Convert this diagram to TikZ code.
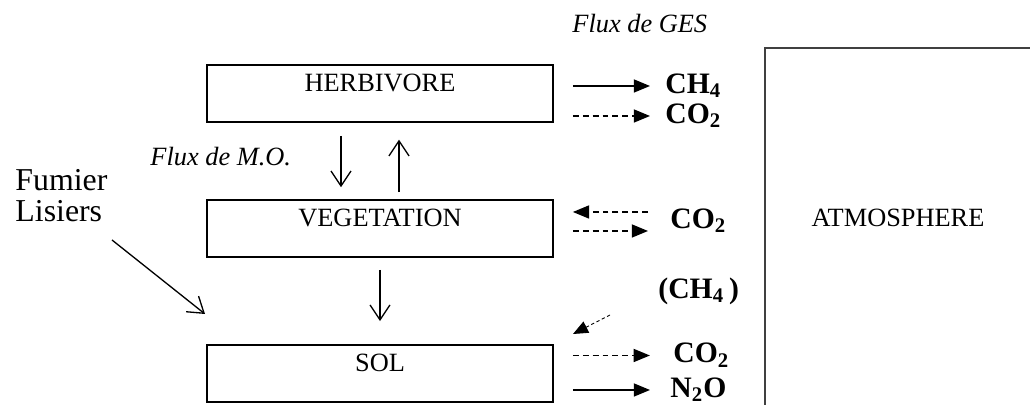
\documentclass[tikz,border=0pt]{standalone}
\usepackage{fontspec}
\setmainfont{Liberation Serif}
\usepackage{tikz}
\usetikzlibrary{
    arrows.meta,
    positioning,
    calc
}

\begin{document}
\begin{tikzpicture}[
    box/.style={draw, line width=0.8pt, minimum width=5.536cm, minimum height=0.912cm, inner ysep=0pt, text height=0.43cm, text depth=0.482cm, font=\fontsize{12}{14}\selectfont},
    gaz/.style={inner sep=0pt, anchor=west, text height=0.66em, text depth=0pt, font=\fontsize{13.5}{15}\selectfont\bfseries},
    note/.style={inner sep=0pt, anchor=base west, font=\fontsize{12}{14}\selectfont\itshape},
    flow/.style={-{Straight Barb[length=0.24cm, width=0.32cm]}, line width=0.6pt},
    flux/.style={-{Triangle[length=0.26cm, width=0.21cm]}, line width=0.6pt, shorten <=0.304cm},
    fluxd/.style={flux, dash pattern=on 2.7pt off 1.8pt},
]
    \useasboundingbox (0,0) rectangle (16.48,6.48);

    % Compartiments
    \node[box] (herb) at (6.08, 4.984) {HERBIVORE};
    \node[box] (veg) at (6.08, 2.824) {VEGETATION};
    \node[box] (sol) at (6.08, 0.504) {SOL};

    % Atmosphere
    \draw[line width=0.5pt, black!75] (12.24,0) |- (16.48,5.712);
    \node[font=\fontsize{12}{14}\selectfont] (atm) at (14.368, 2.99) {ATMOSPHERE};

    % Legendes
    \node[note] (fges) at (9.152, 5.952) {Flux de GES};
    \node[note] (fmo) at (2.4, 3.824) {Flux de M.O.};
    \node[inner sep=0pt, anchor=base west, align=left, font=\fontsize{14.5}{14.5}\selectfont] (fumier) at (0.24, 2.93) {Fumier\\Lisiers};

    % Flux de matiere organique
    \draw[flow, shorten <=0.208cm, shorten >=0.19cm] ([xshift=-0.624cm]herb.south) -- ([xshift=-0.624cm]veg.north);
    \draw[flow, shorten <=0.11cm, shorten >=0.27cm] ([xshift=0.304cm]veg.north) -- ([xshift=0.304cm]herb.south);
    \draw[flow, shorten <=0.192cm, shorten >=0.368cm] (veg.south) -- (sol.north);
    \coordinate (depart) at (1.792, 2.64);
    \coordinate (arrivee) at (3.28, 1.456);
    \draw[flow] (depart) -- (arrivee);

    % Gaz a effet de serre
    \node[gaz] (ch4h) at (10.64, 5.104) {CH\textsubscript{4}};
    \node[gaz] (co2h) at (10.64, 4.624) {CO\textsubscript{2}};
    \node[gaz] (co2v) at (10.72, 2.944) {CO\textsubscript{2}};
    \node[gaz] (ch4s) at (10.528, 1.824) {(CH\textsubscript{4}\,)};
    \node[gaz] (co2s) at (10.768, 0.792) {CO\textsubscript{2}};
    \node[gaz] (n2o) at (10.72, 0.24) {N\textsubscript{2}O};

    \draw[flux, shorten >=0.24cm] (herb.east |- ch4h.west) -- (ch4h.west);
    \draw[fluxd, shorten >=0.24cm] (herb.east |- co2h.west) -- (co2h.west);
    \draw[fluxd, shorten <=0.352cm, shorten >=0.304cm] ($(co2v.west)+(0,0.144)$) -- ($(veg.east |- co2v.west)+(0,0.144)$);
    \draw[fluxd, shorten >=0.352cm] ($(veg.east |- co2v.west)+(0,-0.16)$) -- ($(co2v.west)+(0,-0.16)$);
    \draw[fluxd, shorten >=0.37cm] (sol.east |- co2s.west) -- (co2s.west);
    \draw[flux, shorten >=0.32cm] (sol.east |- n2o.west) -- (n2o.west);
    \coordinate (ch4from) at (9.76, 1.44);
    \coordinate (ch4to) at (9.168, 1.136);
    \draw[-{Triangle[length=0.24cm, width=0.2cm]}, line width=0.4pt, dash pattern=on 1.5pt off 1.2pt] (ch4from) -- (ch4to);

\end{tikzpicture}
\end{document}
